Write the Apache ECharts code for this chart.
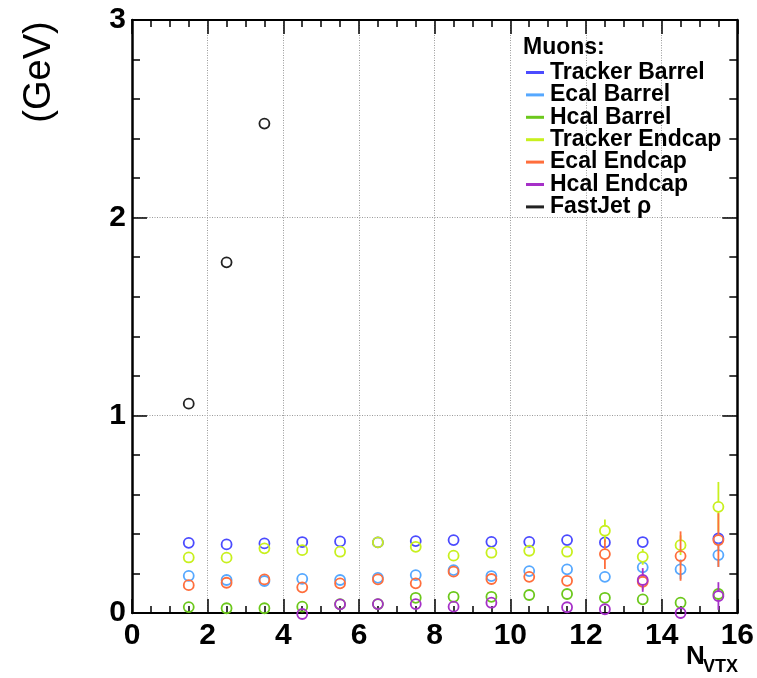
<!DOCTYPE html>
<html>
<head>
<meta charset="utf-8">
<script src="https://cdn.jsdelivr.net/npm/echarts@6/dist/echarts.min.js"></script>
<style>
  html, body { margin: 0; padding: 0; background: #fff; }
  #chart { width: 757px; height: 678px; }
</style>
</head>
<body>
<div id="chart"></div>
<script>
// Bin centres of the vertex multiplicity histogram
const nvtx = [1.5, 2.5, 3.5, 4.5, 5.5, 6.5, 7.5, 8.5, 9.5, 10.5, 11.5, 12.5, 13.5, 14.5, 15.5];

// Mean energy (GeV) per bin, with statistical errors
const trackerBarrel    = [0.355, 0.347, 0.352, 0.359, 0.362, 0.357, 0.364, 0.369, 0.360, 0.360, 0.369, 0.357, 0.359, null, 0.377];
const trackerBarrelErr = [0.01, 0.01, 0.01, 0.01, 0.01, 0.01, 0.01, 0.01, 0.01, 0.01, 0.01, 0.02, 0.02, 0, 0.03];

const ecalBarrel    = [0.188, 0.167, 0.162, 0.173, 0.167, 0.178, 0.192, 0.217, 0.187, 0.212, 0.221, 0.183, 0.231, 0.221, 0.293];
const ecalBarrelErr = [0.01, 0.01, 0.01, 0.01, 0.01, 0.01, 0.01, 0.01, 0.01, 0.01, 0.01, 0.02, 0.03, 0.05, 0.06];

const hcalBarrel    = [0.030, 0.024, 0.024, 0.032, 0.045, 0.045, 0.077, 0.082, 0.082, 0.091, 0.096, 0.077, 0.069, 0.052, 0.096];
const hcalBarrelErr = [0.01, 0.01, 0.01, 0.01, 0.01, 0.01, 0.01, 0.01, 0.01, 0.01, 0.01, 0.02, 0.02, 0.02, 0.03];

const trackerEndcap    = [0.281, 0.280, 0.327, 0.318, 0.310, 0.357, 0.335, 0.290, 0.305, 0.315, 0.310, 0.416, 0.284, 0.343, 0.537];
const trackerEndcapErr = [0.01, 0.01, 0.01, 0.01, 0.01, 0.01, 0.01, 0.01, 0.01, 0.01, 0.02, 0.057, 0.04, 0.05, 0.126];

const ecalEndcap    = [0.141, 0.153, 0.170, 0.130, 0.150, 0.170, 0.150, 0.209, 0.172, 0.183, 0.163, 0.298, 0.158, 0.288, 0.369];
const ecalEndcapErr = [0.01, 0.01, 0.01, 0.01, 0.01, 0.01, 0.01, 0.01, 0.01, 0.01, 0.02, 0.075, 0.04, 0.125, 0.136];

const hcalEndcap    = [null, null, null, -0.005, 0.044, 0.045, 0.045, 0.032, 0.052, null, 0.029, 0.019, 0.167, 0.000, 0.086];
const hcalEndcapErr = [0, 0, 0, 0.01, 0.01, 0.01, 0.01, 0.01, 0.01, 0, 0.01, 0.02, 0.06, 0.03, 0.07];

const fastJetRho    = [1.059, 1.774, 2.476, null, null, null, null, null, null, null, null, null, null, null, null];
const fastJetRhoErr = [0.01, 0.01, 0.01, 0, 0, 0, 0, 0, 0, 0, 0, 0, 0, 0, 0];

// Axis ticks
const xTicks = [0, 2, 4, 6, 8, 10, 12, 14, 16];
const yTicks = [0, 1, 2, 3];

const seriesDefs = [
  { name: 'Tracker Barrel', color: '#4b4bff', values: trackerBarrel, errors: trackerBarrelErr },
  { name: 'Ecal Barrel',    color: '#56a8ff', values: ecalBarrel,    errors: ecalBarrelErr },
  { name: 'Hcal Barrel',    color: '#6cc81c', values: hcalBarrel,    errors: hcalBarrelErr },
  { name: 'Tracker Endcap', color: '#c8f01e', values: trackerEndcap, errors: trackerEndcapErr },
  { name: 'Ecal Endcap',    color: '#ff6e3c', values: ecalEndcap,    errors: ecalEndcapErr },
  { name: 'Hcal Endcap',    color: '#a630c8', values: hcalEndcap,    errors: hcalEndcapErr },
  { name: 'FastJet ρ',      color: '#222222', values: fastJetRho,    errors: fastJetRhoErr }
];

const MARKER_R = 5;

// Hollow circle marker with vertical error bar, drawn in data coordinates
function renderPoint(color) {
  return function (params, api) {
    const x = api.value(0), y = api.value(1), e = api.value(2);
    const c = api.coord([x, y]);
    const top = api.coord([x, y + e]);
    const bot = api.coord([x, y - e]);
    const children = [];
    const lineStyle = { stroke: color, lineWidth: 1.8 };
    if (c[1] - top[1] > MARKER_R) {
      children.push({ type: 'line', shape: { x1: c[0], y1: top[1], x2: c[0], y2: c[1] - MARKER_R }, style: lineStyle });
      children.push({ type: 'line', shape: { x1: c[0], y1: c[1] + MARKER_R, x2: c[0], y2: bot[1] }, style: lineStyle });
    }
    children.push({
      type: 'circle',
      shape: { cx: c[0], cy: c[1], r: MARKER_R },
      style: { fill: 'none', stroke: color, lineWidth: 1.8 }
    });
    return { type: 'group', children: children };
  };
}

const series = seriesDefs.map(function (d) {
  const data = [];
  d.values.forEach(function (v, i) {
    if (v !== null) data.push([nvtx[i], v, d.errors[i]]);
  });
  return {
    type: 'custom',
    name: d.name,
    itemStyle: { color: d.color },
    clip: false,
    renderItem: renderPoint(d.color),
    encode: { x: 0, y: 1 },
    data: data,
    z: 5
  };
});

const FONT = '"Liberation Sans", Arial, sans-serif';
const labelFont = { fontFamily: FONT, fontWeight: 'bold', fontSize: 30, color: '#000' };
const gridLine = { show: true, lineStyle: { color: '#9a9a9a', type: [1, 1.5], width: 1 } };

const chart = echarts.init(document.getElementById('chart'), null, { renderer: 'canvas' });

chart.setOption({
  backgroundColor: '#fff',
  animation: false,
  grid: { left: 132, right: 17, top: 20, bottom: 65, show: false },
  xAxis: [
    {
      type: 'value', min: xTicks[0], max: xTicks[xTicks.length - 1], interval: 2,
      position: 'bottom',
      axisLine: { show: true, onZero: false, lineStyle: { color: '#000', width: 2 } },
      axisTick: { show: true, inside: true, length: 14, lineStyle: { color: '#000', width: 1.5 } },
      minorTick: { show: true, splitNumber: 4, length: 7, lineStyle: { color: '#000', width: 1.5 } },
      axisLabel: Object.assign({ margin: 8 }, labelFont),
      splitLine: gridLine
    },
    {
      type: 'value', min: xTicks[0], max: xTicks[xTicks.length - 1], interval: 2,
      position: 'top',
      axisLine: { show: true, onZero: false, lineStyle: { color: '#000', width: 2 } },
      axisTick: { show: true, inside: true, length: 14, lineStyle: { color: '#000', width: 1.5 } },
      minorTick: { show: true, splitNumber: 4, length: 7, lineStyle: { color: '#000', width: 1.5 } },
      axisLabel: { show: false },
      splitLine: { show: false }
    }
  ],
  yAxis: [
    {
      type: 'value', min: yTicks[0], max: yTicks[yTicks.length - 1], interval: 1,
      position: 'left',
      axisLine: { show: true, onZero: false, lineStyle: { color: '#000', width: 2.5 } },
      axisTick: { show: true, inside: true, length: 15, lineStyle: { color: '#000', width: 1.5 } },
      minorTick: { show: true, splitNumber: 5, length: 8, lineStyle: { color: '#000', width: 1.5 } },
      axisLabel: Object.assign({ margin: 6 }, labelFont),
      splitLine: gridLine
    },
    {
      type: 'value', min: yTicks[0], max: yTicks[yTicks.length - 1], interval: 1,
      position: 'right',
      axisLine: { show: true, onZero: false, lineStyle: { color: '#000', width: 2.5 } },
      axisTick: { show: true, inside: true, length: 15, lineStyle: { color: '#000', width: 1.5 } },
      minorTick: { show: true, splitNumber: 5, length: 8, lineStyle: { color: '#000', width: 1.5 } },
      axisLabel: { show: false },
      splitLine: { show: false }
    }
  ],
  legend: {
    orient: 'vertical',
    left: 521,
    top: 56,
    icon: 'rect',
    itemWidth: 18,
    itemHeight: 3,
    itemGap: -0.6,
    selectedMode: false,
    textStyle: { fontFamily: FONT, fontWeight: 'bold', fontSize: 23, color: '#000', lineHeight: 22, padding: [0, 0, 0, 1] },
    data: seriesDefs.map(function (d) { return { name: d.name, itemStyle: { color: d.color } }; })
  },
  graphic: [
    {
      type: 'text', x: 523, y: 48,
      style: { text: 'Muons:', font: 'bold 23px ' + FONT, fill: '#000', align: 'left', verticalAlign: 'middle' }
    },
    {
      type: 'text', x: 40, y: 72, rotation: Math.PI / 2,
      style: { text: '(GeV)', font: '38px ' + FONT, fill: '#000', align: 'center', verticalAlign: 'middle' }
    },
    {
      type: 'text', x: 686, y: 657,
      style: { text: 'N', font: 'bold 26px ' + FONT, fill: '#000', align: 'left', verticalAlign: 'middle' }
    },
    {
      type: 'text', x: 703, y: 667,
      style: { text: 'VTX', font: 'bold 18px ' + FONT, fill: '#000', align: 'left', verticalAlign: 'middle' }
    }
  ],
  series: series
});
</script>
</body>
</html>
